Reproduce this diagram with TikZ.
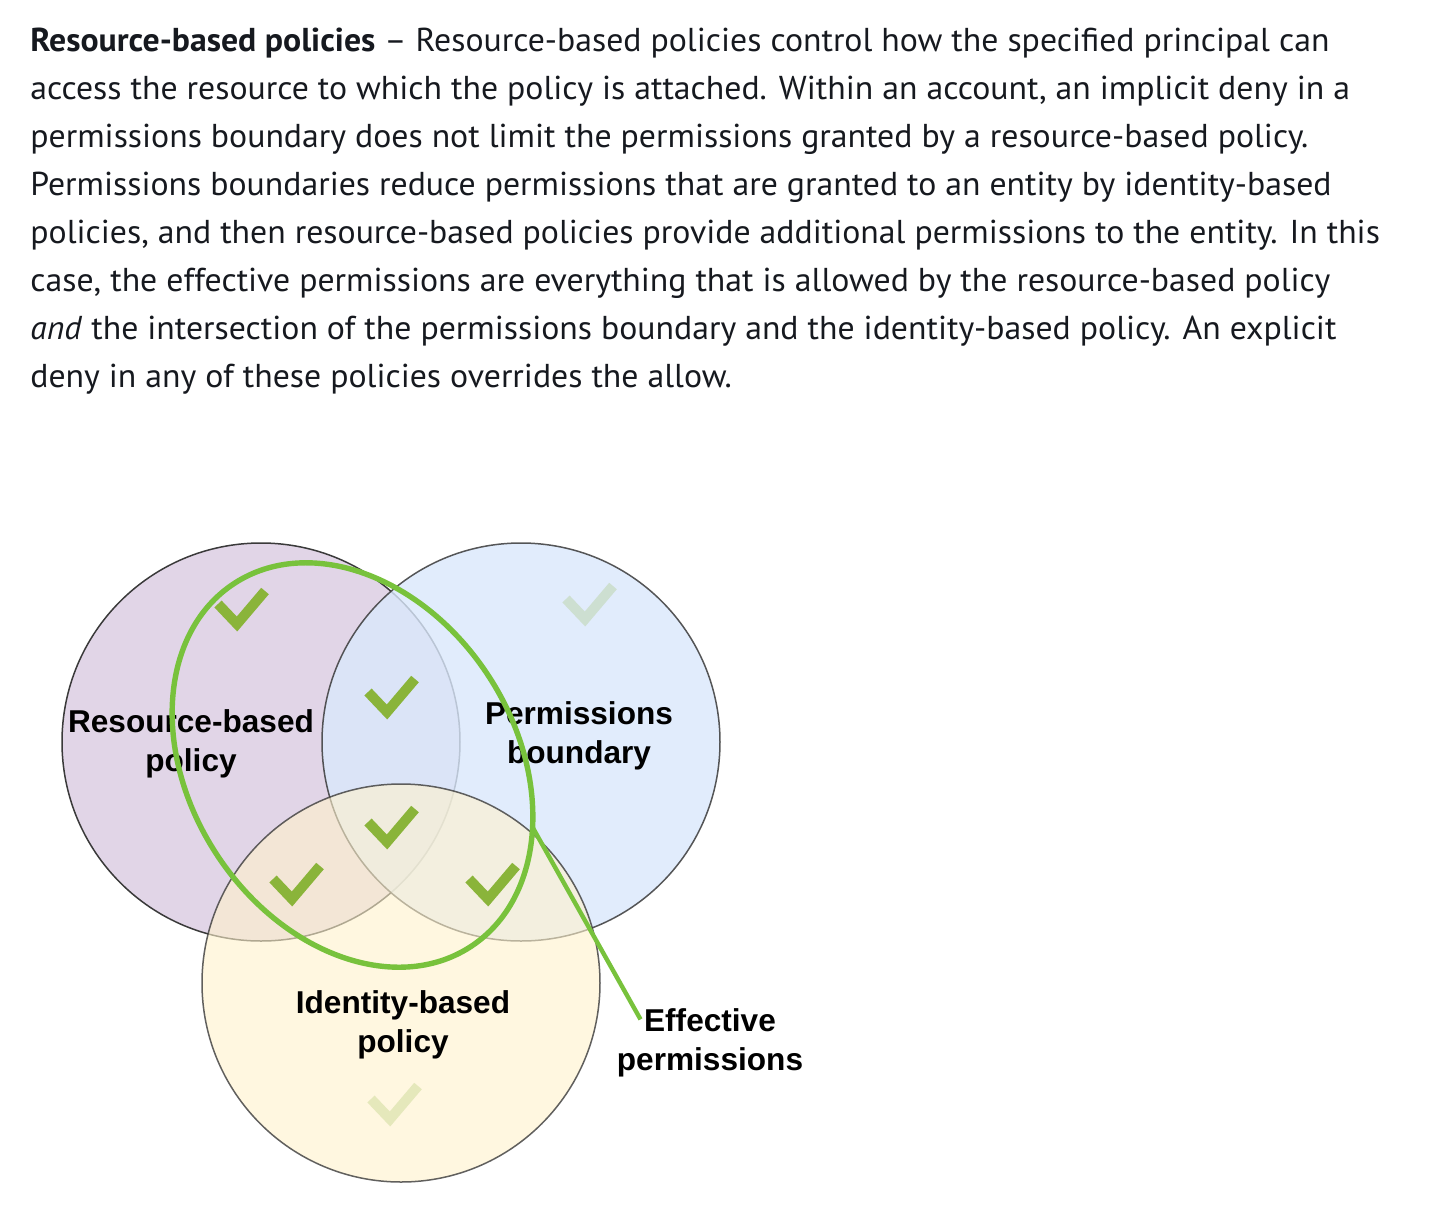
\documentclass[tikz,border=0pt]{standalone}
\usepackage{fontspec}
\setmainfont{PT Sans}[FakeStretch=1.02]
\newfontfamily\lblfont{Liberation Sans}
\definecolor{bodytext}{HTML}{16191F}
\definecolor{purpleF}{HTML}{E1D5E7}
\definecolor{blueF}{HTML}{DAE8FC}
\definecolor{yellowF}{HTML}{FFF2CC}
\definecolor{edgeC}{HTML}{3A3A3A}
\definecolor{ringG}{HTML}{78C23C}
\definecolor{checkG}{HTML}{8AB43A}
\tikzset{
  txt/.style={anchor=base west, inner sep=0pt, text=bodytext, font=\fontsize{16.55}{19}\selectfont},
  venn/.style={circle, minimum size=199pt, inner sep=0pt, draw=edgeC, line width=0.75pt},
  lbl/.style={align=center, inner sep=0pt, text=black, font=\lblfont\bfseries\fontsize{15.8}{19.5}\selectfont},
  chkdark/.style={draw=checkG, line width=5pt, line cap=butt, line join=miter},
  chkfade/.style={draw=checkG, draw opacity=0.22, line width=5pt, line cap=butt, line join=miter},
  chk/.pic={\draw[#1] (-19,-20) -- (0,0) -- (28,-33);},
  ring/.style={draw=ringG, line width=2.7pt},
  leader/.style={draw=ringG, line width=2.2pt}
}
\begin{document}
\begin{tikzpicture}[x=0.5pt,y=-0.5pt]
\useasboundingbox[fill=white] (0,0) rectangle (1432,1222);

% body text
\node[txt] (l1) at (30,51) {\textbf{Resource-based policies} – Resource-based policies control how the specified principal can};
\node[txt] (l2) at (30,99) {access the resource to which the policy is attached. Within an account, an implicit deny in a};
\node[txt] (l3) at (30,147) {permissions boundary does not limit the permissions granted by a resource-based policy.};
\node[txt] (l4) at (30,195) {Permissions boundaries reduce permissions that are granted to an entity by identity-based};
\node[txt] (l5) at (30,243) {policies, and then resource-based policies provide additional permissions to the entity. In this};
\node[txt] (l6) at (30,291) {case, the effective permissions are everything that is allowed by the resource-based policy};
\node[txt] (l7) at (30,339) {\textit{and} the intersection of the permissions boundary and the identity-based policy. An explicit};
\node[txt] (l8) at (30,387) {deny in any of these policies overrides the allow.};

% circles
\node[venn, fill=purpleF] (rbp) at (261,742) {};
\node[venn, fill=blueF, fill opacity=0.8, draw opacity=0.85] (pb) at (521,742) {};
\node[venn, fill=yellowF, fill opacity=0.6, draw opacity=0.8] (ibp) at (401,983) {};

% labels
\node[lbl] (rbpL) at (191,744) {Resource-based\\policy};
\node[lbl] (pbL) at (579,736) {Permissions\\boundary};
\node[lbl] (ibpL) at (403,1025) {Identity-based\\policy};
\node[lbl] (eff) at (710,1043) {Effective\\permissions};

% check marks
\pic at (237,624) {chk=chkdark};
\pic at (585,619) {chk=chkfade};
\pic at (387,712) {chk=chkdark};
\pic at (387,842) {chk=chkdark};
\pic at (292,899) {chk=chkdark};
\pic at (488,899) {chk=chkdark};
\pic at (390,1119) {chk=chkfade};

% effective permissions ring
\draw[ring, rotate around={33:(352.5,765)}] (352.5,765) ellipse [x radius=162.6, y radius=216.7];
\coordinate (lstart) at (533,828);
\draw[leader] (lstart) -- ([shift={(24,11)}]eff.north west);
\end{tikzpicture}
\end{document}
